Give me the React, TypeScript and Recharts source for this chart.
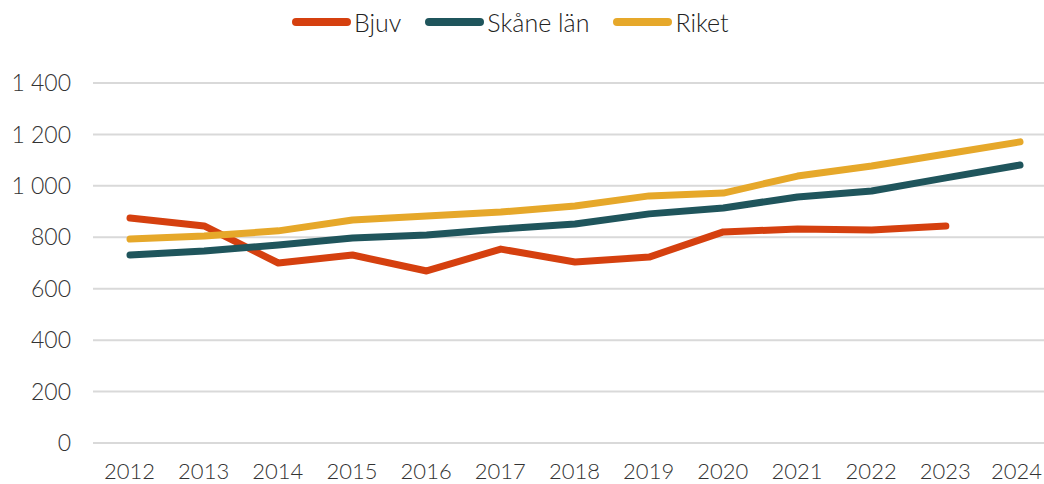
import { LineChart, Line, XAxis, YAxis, CartesianGrid } from "recharts";

const YEARS = ["2012", "2013", "2014", "2015", "2016", "2017", "2018", "2019", "2020", "2021", "2022", "2023", "2024"];
const BJUV = [875, 844, 700, 731, 669, 754, 704, 723, 821, 832, 828, 844, null];
const SKANE = [731, 747, 770, 797, 809, 832, 852, 891, 914, 957, 980, 1031, 1081];
const RIKET = [793, 805, 825, 867, 883, 898, 922, 961, 972, 1038, 1077, 1124, 1171];
const Y_TICKS = [0, 200, 400, 600, 800, 1000, 1200, 1400];

const SERIES = [
  { key: "bjuv", name: "Bjuv", color: "#D5400F" },
  { key: "skane", name: "Skåne län", color: "#1F555C" },
  { key: "riket", name: "Riket", color: "#E6A82A" },
];

const data = YEARS.map((year, i) => ({
  year,
  bjuv: BJUV[i],
  skane: SKANE[i],
  riket: RIKET[i],
}));

const FONT = "Lato, 'Noto Sans', sans-serif";
const TICK = { fontSize: 23, fill: "#333333", fontFamily: FONT, fontWeight: 300 };

function fmt(v: number) {
  return v >= 1000 ? `${Math.floor(v / 1000)} ${String(v % 1000).padStart(3, "0")}` : String(v);
}

// keeps the last year label inside the visible 1044px
function YearTick({ x, y, payload }: any) {
  const right = Math.min(x + 25, 1042);
  return (
    <text x={right} y={y + 12} dy="0.71em" textAnchor="end" fontSize={22} fill="#333333" fontFamily={FONT} fontWeight={300}>
      {payload.value}
    </text>
  );
}

function LegendRow() {
  return (
    <div
      style={{
        position: "absolute",
        top: 7,
        left: 292,
        display: "flex",
        alignItems: "center",
        fontFamily: FONT,
        fontWeight: 300,
        fontSize: 25,
        color: "#222",
      }}
    >
      {SERIES.map((s, i) => (
        <div key={s.key} style={{ display: "flex", alignItems: "center", marginRight: i < 2 ? 24 : 0 }}>
          <span
            style={{
              display: "inline-block",
              width: 59,
              height: 8,
              borderRadius: 4,
              background: s.color,
              marginRight: 3,
            }}
          />
          <span>{s.name}</span>
        </div>
      ))}
    </div>
  );
}

export default function App() {
  return (
    <div style={{ position: "absolute", left: 0, top: 0, width: 1044, height: 484, overflow: "hidden", background: "#fff" }}>
      <LineChart width={1057} height={484} data={data} margin={{ top: 83, right: 0, left: 0, bottom: 0 }}>
        <CartesianGrid vertical={false} stroke="#d9d9d9" strokeWidth={2} />
        <XAxis
          dataKey="year"
          axisLine={false}
          tickLine={false}
          tick={<YearTick />}
          height={41}
          interval={0}
          padding={{ left: 37, right: 37 }}
        />
        <YAxis
          domain={[0, 1400]}
          ticks={Y_TICKS}
          tickFormatter={fmt}
          axisLine={false}
          tickLine={false}
          tick={TICK}
          width={93}
          tickMargin={16}
          interval={0}
        />
        {SERIES.map((s) => (
          <Line
            key={s.key}
            type="linear"
            dataKey={s.key}
            name={s.name}
            stroke={s.color}
            strokeWidth={7}
            strokeLinecap="round"
            strokeLinejoin="round"
            dot={false}
            activeDot={false}
            isAnimationActive={false}
          />
        ))}
      </LineChart>
      <LegendRow />
    </div>
  );
}
